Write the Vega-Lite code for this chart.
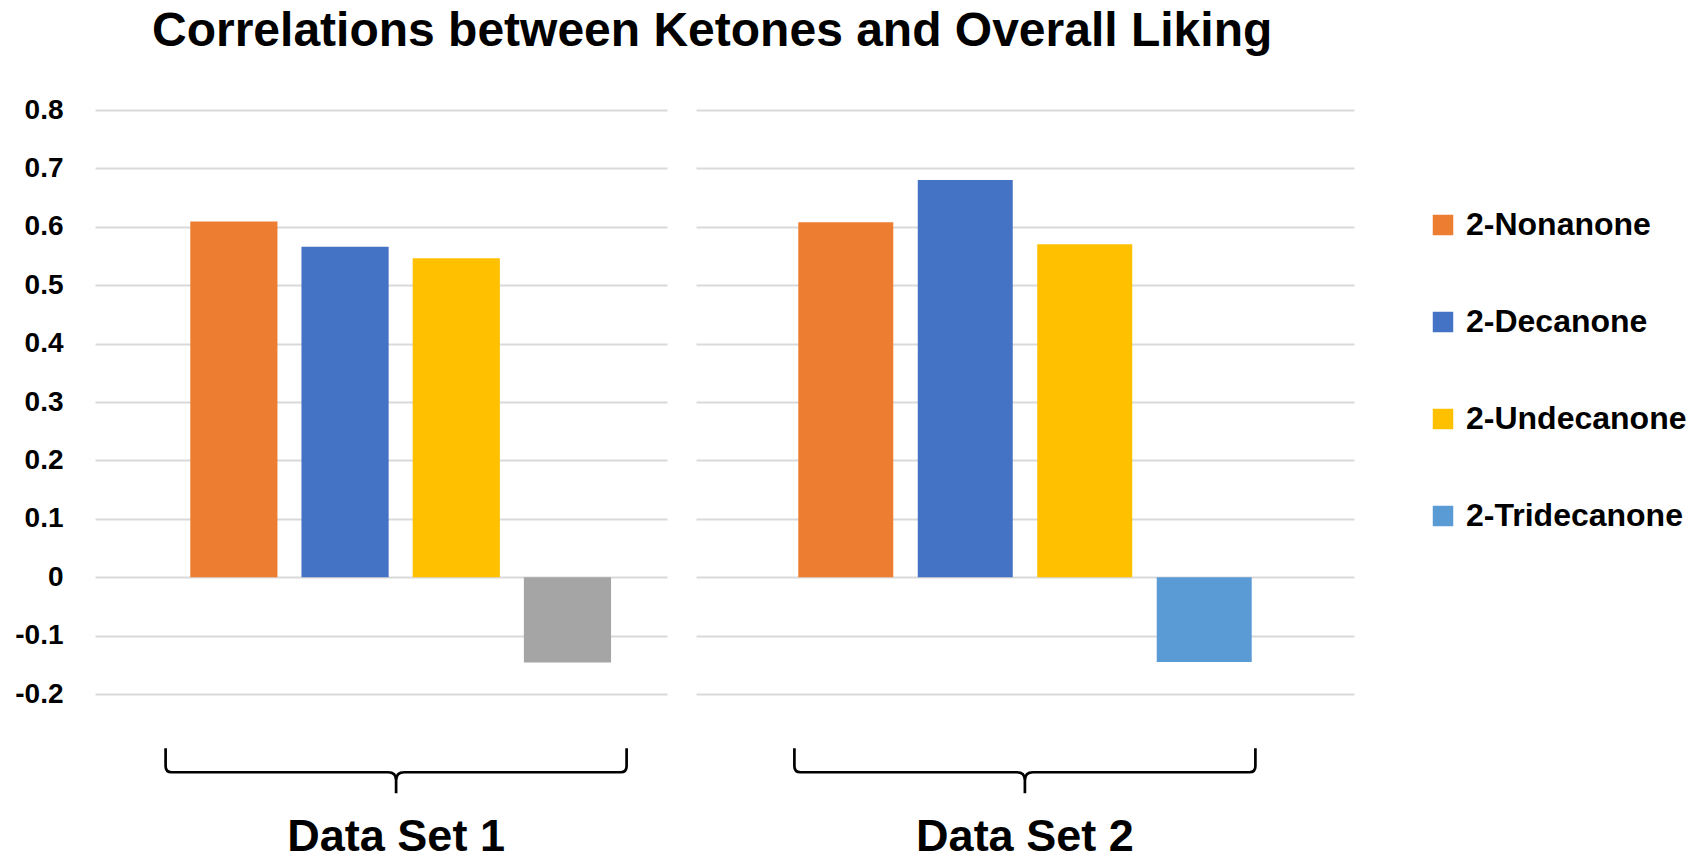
{
  "$schema": "https://vega.github.io/schema/vega-lite/v6.json",
  "background": "white",
  "padding": {"left": 14, "top": 8, "right": 0, "bottom": 0},
  "title": {
    "text": "Correlations between Ketones and Overall Liking",
    "font": "Liberation Sans",
    "fontSize": 48,
    "fontWeight": "bold",
    "color": "black",
    "anchor": "start",
    "frame": "group",
    "dx": 57,
    "offset": 40
  },
  "data": {
    "values": [
      {"set": "Data Set 1", "compound": "2-Nonanone", "r": 0.609},
      {"set": "Data Set 1", "compound": "2-Decanone", "r": 0.566},
      {"set": "Data Set 1", "compound": "2-Undecanone", "r": 0.546},
      {"set": "Data Set 1", "compound": "2-Tridecanone", "r": -0.146},
      {"set": "Data Set 2", "compound": "2-Nonanone", "r": 0.608},
      {"set": "Data Set 2", "compound": "2-Decanone", "r": 0.68},
      {"set": "Data Set 2", "compound": "2-Undecanone", "r": 0.57},
      {"set": "Data Set 2", "compound": "2-Tridecanone", "r": -0.145}
    ]
  },
  "spacing": 29,
  "resolve": {"scale": {"x": "independent", "y": "independent", "color": "shared"}},
  "hconcat": [
    {
      "width": 572,
      "height": 584,
      "transform": [{"filter": "datum.set === 'Data Set 1'"}],
      "layer": [
        {
          "mark": {"type": "bar"},
          "encoding": {
            "x": {
              "field": "compound",
              "type": "nominal",
              "scale": {
                "domain": ["2-Nonanone", "2-Decanone", "2-Undecanone", "2-Tridecanone"],
                "paddingInner": 0.216,
                "paddingOuter": 0.68,
                "align": 0.63
              },
              "axis": null
            },
            "y": {
              "field": "r",
              "type": "quantitative",
              "scale": {"domain": [-0.2, 0.8], "nice": false, "zero": false},
              "axis": {
                "title": null,
                "values": [-0.2, -0.1, 0, 0.1, 0.2, 0.3, 0.4, 0.5, 0.6, 0.7, 0.8],
                "labelExpr": "replace(format(datum.value, '.1~f'), '\u2212', '-')",
                "labelFont": "Liberation Sans",
                "labelFontSize": 28,
                "labelFontWeight": "bold",
                "labelColor": "black",
                "labelPadding": 32,
                "ticks": false,
                "domain": false,
                "grid": true,
                "gridColor": "#d9d9d9",
                "gridWidth": 2
              }
            },
            "color": {
              "condition": {"test": "datum.compound === '2-Tridecanone' && datum.set === 'Data Set 1'", "value": "#a5a5a5"},
              "field": "compound",
              "type": "nominal",
              "scale": {
                "domain": ["2-Nonanone", "2-Decanone", "2-Undecanone", "2-Tridecanone"],
                "range": ["#ed7d31", "#4472c4", "#ffc000", "#5b9bd5"]
              },
              "legend": {
                "title": null,
                "orient": "none",
                "legendX": 1332,
                "legendY": 99,
                "symbolType": "square",
                "symbolSize": 420,
                "symbolStrokeWidth": 0,
                "labelFont": "Liberation Sans",
                "labelFontSize": 32,
                "labelFontWeight": "bold",
                "labelColor": "black",
                "labelOffset": 7,
                "labelLimit": 400,
                "rowPadding": 65
              }
            }
          }
        },
        {
          "transform": [{"aggregate": [], "groupby": ["set"]}],
          "mark": {
            "type": "point",
            "shape": "M-1,-0.104 L-1,-0.026 Q-1,0 -0.974,0 L-0.035,0 Q0,0 0,0.035 L0,0.091 M0,0.035 Q0,0 0.035,0 L0.974,0 Q1,0 1,-0.026 L1,-0.104",
            "filled": false,
            "stroke": "black",
            "strokeWidth": 2.7,
            "opacity": 1,
            "size": 212521
          },
          "encoding": {
            "x": {"datum": "2-Undecanone", "type": "nominal", "bandPosition": -0.19},
            "y": {"datum": -0.334, "type": "quantitative"}
          }
        },
        {
          "transform": [{"aggregate": [], "groupby": ["set"]}],
          "mark": {
            "type": "text",
            "font": "Liberation Sans",
            "fontSize": 45,
            "fontWeight": "bold",
            "color": "black",
            "align": "center",
            "baseline": "alphabetic"
          },
          "encoding": {
            "x": {"datum": "2-Undecanone", "type": "nominal", "bandPosition": -0.19},
            "y": {"datum": -0.469, "type": "quantitative"},
            "text": {"field": "set"}
          }
        }
      ]
    },
    {
      "width": 658,
      "height": 584,
      "transform": [{"filter": "datum.set === 'Data Set 2'"}],
      "layer": [
        {
          "mark": {"type": "bar"},
          "encoding": {
            "x": {
              "field": "compound",
              "type": "nominal",
              "scale": {
                "domain": ["2-Nonanone", "2-Decanone", "2-Undecanone", "2-Tridecanone"],
                "paddingInner": 0.205,
                "paddingOuter": 0.856,
                "align": 0.5
              },
              "axis": null
            },
            "y": {
              "field": "r",
              "type": "quantitative",
              "scale": {"domain": [-0.2, 0.8], "nice": false, "zero": false},
              "axis": {
                "title": null,
                "values": [-0.2, -0.1, 0, 0.1, 0.2, 0.3, 0.4, 0.5, 0.6, 0.7, 0.8],
                "labels": false,
                "ticks": false,
                "domain": false,
                "grid": true,
                "gridColor": "#d9d9d9",
                "gridWidth": 2
              }
            },
            "color": {
              "condition": {"test": "datum.compound === '2-Tridecanone' && datum.set === 'Data Set 1'", "value": "#a5a5a5"},
              "field": "compound",
              "type": "nominal"
            }
          }
        },
        {
          "transform": [{"aggregate": [], "groupby": ["set"]}],
          "mark": {
            "type": "point",
            "shape": "M-1,-0.104 L-1,-0.026 Q-1,0 -0.974,0 L-0.035,0 Q0,0 0,0.035 L0,0.091 M0,0.035 Q0,0 0.035,0 L0.974,0 Q1,0 1,-0.026 L1,-0.104",
            "filled": false,
            "stroke": "black",
            "strokeWidth": 2.7,
            "opacity": 1,
            "size": 212521
          },
          "encoding": {
            "x": {"datum": "2-Undecanone", "type": "nominal", "bandPosition": -0.13},
            "y": {"datum": -0.334, "type": "quantitative"}
          }
        },
        {
          "transform": [{"aggregate": [], "groupby": ["set"]}],
          "mark": {
            "type": "text",
            "font": "Liberation Sans",
            "fontSize": 45,
            "fontWeight": "bold",
            "color": "black",
            "align": "center",
            "baseline": "alphabetic"
          },
          "encoding": {
            "x": {"datum": "2-Undecanone", "type": "nominal", "bandPosition": -0.13},
            "y": {"datum": -0.469, "type": "quantitative"},
            "text": {"field": "set"}
          }
        }
      ]
    }
  ],
  "config": {
    "view": {"stroke": null}
  }
}
